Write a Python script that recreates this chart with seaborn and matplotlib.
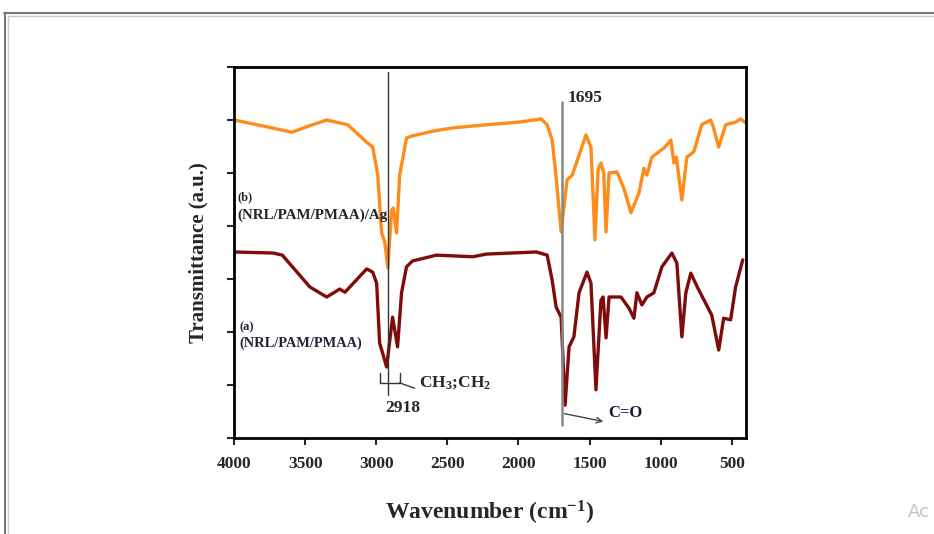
import numpy as np
import pandas as pd
import seaborn as sns
import matplotlib.pyplot as plt
from matplotlib.lines import Line2D

# FTIR spectra (wavenumber cm-1, transmittance a.u.)
wn_b = [4000, 3800, 3593, 3470, 3348, 3200, 3067, 3025, 2990, 2962, 2940, 2918,
        2892, 2880, 2857, 2835, 2787, 2745, 2600, 2464, 2226, 1995, 1840, 1798,
        1763, 1735, 1700, 1658, 1622, 1525, 1490, 1462, 1440, 1420, 1400, 1384,
        1363, 1307, 1260, 1209, 1153, 1118, 1097, 1062, 977, 928, 907, 890, 851,
        816, 767, 711, 648, 630, 592, 543, 473, 437, 410]
tr_b = [6.00, 5.89, 5.77, 5.89, 6.00, 5.91, 5.58, 5.49, 4.98, 3.87, 3.70, 3.21,
        4.30, 4.34, 3.87, 4.96, 5.66, 5.70, 5.79, 5.85, 5.91, 5.96, 6.02, 5.91,
        5.62, 4.92, 3.89, 4.87, 4.96, 5.72, 5.49, 3.74, 5.06, 5.19, 5.00, 3.89,
        5.00, 5.02, 4.72, 4.25, 4.62, 5.09, 4.96, 5.30, 5.47, 5.62, 5.19, 5.30,
        4.49, 5.30, 5.40, 5.91, 6.00, 5.87, 5.49, 5.91, 5.96, 6.02, 5.96]

wn_a = [4000, 3725, 3660, 3467, 3348, 3257, 3220, 3067, 3025, 2997, 2976, 2955,
        2927, 2910, 2885, 2850, 2822, 2787, 2745, 2577, 2320, 2226, 1875, 1798,
        1763, 1735, 1700, 1672, 1644, 1610, 1574, 1518, 1490, 1455, 1420, 1405,
        1384, 1363, 1279, 1223, 1188, 1167, 1132, 1097, 1048, 991, 921, 886, 851,
        823, 788, 739, 641, 592, 557, 508, 473, 423]
tr_a = [3.51, 3.49, 3.45, 2.85, 2.66, 2.81, 2.75, 3.19, 3.13, 2.92, 1.79, 1.60,
        1.34, 1.72, 2.28, 1.72, 2.74, 3.23, 3.34, 3.45, 3.42, 3.47, 3.51, 3.45,
        2.98, 2.47, 2.28, 0.62, 1.72, 1.91, 2.74, 3.13, 2.92, 0.91, 2.60, 2.66,
        1.89, 2.66, 2.66, 2.45, 2.26, 2.74, 2.51, 2.66, 2.74, 3.23, 3.49, 3.30,
        1.91, 2.74, 3.11, 2.83, 2.32, 1.66, 2.26, 2.23, 2.85, 3.36]

xticks = [4000, 3500, 3000, 2500, 2000, 1500, 1000, 500]

df_a = pd.DataFrame({'wavenumber': wn_a, 'transmittance': tr_a})
df_b = pd.DataFrame({'wavenumber': wn_b, 'transmittance': tr_b})

sns.set_style("ticks")
plt.rcParams['font.family'] = ['Liberation Serif', 'DejaVu Serif']
plt.rcParams['mathtext.fontset'] = 'custom'
plt.rcParams['mathtext.rm'] = 'Liberation Serif:bold'
plt.rcParams['mathtext.it'] = 'Liberation Serif:bold'
plt.rcParams['mathtext.bf'] = 'Liberation Serif:bold'
plt.rcParams['mathtext.default'] = 'rm'

fig = plt.figure(figsize=(9.34, 5.34), dpi=100)
ax = fig.add_axes([234 / 934, 1 - 438 / 534, 512 / 934, 371 / 534])

sns.lineplot(data=df_b, x='wavenumber', y='transmittance', sort=False,
             color='#ff8c1a', lw=2.4, ax=ax)
sns.lineplot(data=df_a, x='wavenumber', y='transmittance', sort=False,
             color='#7f0b0b', lw=2.4, ax=ax)

ax.set_xlim(4000, 400)
ax.set_ylim(0, 7)
ax.set_xticks(xticks)
ax.set_yticks(range(8))
ax.set_yticklabels([])
for lab in ax.get_xticklabels():
    lab.set_fontweight('bold')
ax.tick_params(axis='x', labelsize=12.5, length=5, width=1.5, pad=8)
ax.tick_params(axis='y', length=5, width=1.5)
for sp in ax.spines.values():
    sp.set_linewidth(2)
    sp.set_color('black')

ax.set_xlabel('Wavenumber (cm$^{-1}$)', fontsize=17, fontweight='bold', labelpad=19)
ax.set_ylabel('Transmittance (a.u.)', fontsize=15, fontweight='bold', labelpad=10)

# peak markers
ax.plot([2918, 2918], [0.81, 6.91], color='#333333', lw=1.0)
ax.plot([1695, 1695], [0.25, 6.34], color='#888888', lw=1.8)
ax.text(1655, 6.42, '1695', fontsize=12.5, fontweight='bold', va='center', ha='left')

# CH3;CH2 bracket
ax.plot([2976, 2976, 2836, 2836], [1.23, 1.04, 1.04, 1.23], color='#333333', lw=1.0)
ax.plot([2836, 2730], [1.04, 0.94], color='#333333', lw=1.0)
ax.text(2700, 1.04, 'CH$_3$;CH$_2$', fontsize=12.5, fontweight='bold',
        va='center', ha='left')
ax.text(2815, 0.57, '2918', fontsize=12.5, fontweight='bold', va='center', ha='center')

# C=O arrow
ax.annotate('', xy=(1384, 0.30), xytext=(1695, 0.47),
            arrowprops=dict(arrowstyle='->', color='#444444', lw=1.0))
ax.text(1370, 0.47, 'C=O', fontsize=12, fontweight='bold', va='center', ha='left',
        color='#1a1a33')

# sample labels
ax.text(3975, 4.55, '(b)', fontsize=9, fontweight='bold', va='center', ha='left')
ax.text(3975, 4.21, '(NRL/PAM/PMAA)/Ag', fontsize=10.8, fontweight='bold',
        va='center', ha='left')
ax.text(3960, 2.08, '(a)', fontsize=9, fontweight='bold', va='center', ha='left',
        color='#22223a')
ax.text(3960, 1.79, '(NRL/PAM/PMAA)', fontsize=10.4, fontweight='bold',
        va='center', ha='left', color='#22223a')

# screenshot window frame
W, H = 934, 534
fig.add_artist(Line2D([4 / W, 1], [1 - 13 / H, 1 - 13 / H], color='#7a7a7a', lw=1.5))
fig.add_artist(Line2D([5 / W, 5 / W], [0, 1 - 13 / H], color='#7a7a7a', lw=1.5))
fig.add_artist(Line2D([8 / W, 1], [1 - 16 / H, 1 - 16 / H], color='#c8c8c8', lw=1.0))
fig.add_artist(Line2D([8 / W, 8 / W], [0, 1 - 16 / H], color='#c8c8c8', lw=1.0))
fig.text(908 / W, 1 - 512 / H, 'Ac', fontsize=13, color='#c4c4c4', va='center',
         ha='left', family='DejaVu Sans')

fig.savefig('out.png', dpi=100)
